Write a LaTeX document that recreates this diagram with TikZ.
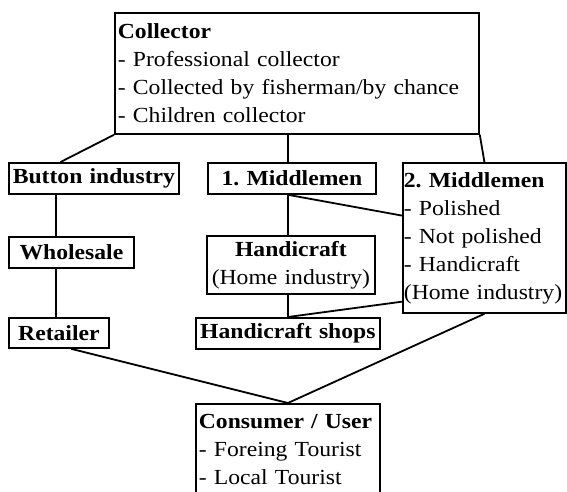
\documentclass[tikz,border=0pt]{standalone}
\usepackage{fontspec}
\setmainfont{Liberation Serif}[FakeStretch=1.1]
\usetikzlibrary{calc}
\hyphenpenalty=10000
\exhyphenpenalty=10000
\begin{document}
\begin{tikzpicture}[x=1pt,y=1pt,
  box/.style={draw, line width=1.8pt, inner xsep=3pt, inner ysep=0pt, anchor=north west,
    font=\fontsize{21.5}{28}\selectfont},
  lbox/.style={box, align=left},
  cbox/.style={box, align=center},
  link/.style={line width=1.8pt}]
\clip (0,0) rectangle (567,-491);
\coordinate (vx) at (288,0);
\coordinate (vb) at (56,0);
\node[lbox, text width=358pt, minimum height=121pt] (col) at (114,-12)
  {\textbf{Collector}\\- Professional collector\\- Collected by fisherman/by chance\\- Children collector};
\node[cbox, text width=164pt, minimum height=31pt] (btn) at (8,-162) {\textbf{Button industry}};
\node[cbox, text width=119pt, minimum height=31pt] (ws) at (8,-236) {\textbf{Wholesale}};
\node[cbox, text width=94pt, minimum height=30pt] (rt) at (8,-317) {\textbf{Retailer}};
\node[cbox, text width=162pt, minimum height=31pt] (m1) at (207,-162) {\textbf{1.\ Middlemen}};
\node[cbox, text width=162pt, minimum height=58pt] (hc) at (206,-235) {\textbf{Handicraft}\\(Home industry)};
\node[cbox, text width=178pt, minimum height=31pt] (hs) at (195,-317) {\textbf{Handicraft shops}};
\node[lbox, inner xsep=1pt, text width=161pt, minimum height=150pt] (m2) at (402,-162)
  {\textbf{2.\ Middlemen}\\- Polished\\- Not polished\\- Handicraft\\(Home industry)};
\node[lbox, text width=178pt, minimum height=92pt] (cs) at (195,-403)
  {\textbf{Consumer / User}\\- Foreing Tourist\\- Local Tourist};
\draw[link] (col.south west) -- ($(btn.north west)!0.306!(btn.north east)$);
\draw[link] (vx |- col.south) -- (vx |- m1.north);
\draw[link] (col.south east) -- (m2.north);
\draw[link] (vb |- btn.south) -- (vb |- ws.north);
\draw[link] (vb |- ws.south) -- (vb |- rt.north);
\draw[link] (vx |- m1.south) -- (vx |- hc.north);
\draw[link] (vx |- hc.south) -- (vx |- hs.north);
\draw[link] (vx |- m1.south) -- ($(m2.north west)!0.353!(m2.south west)$);
\draw[link] ($(m2.north west)!0.92!(m2.south west)$) -- (vx |- hs.north);
\draw[link] (m2.south) -- (cs.north);
\draw[link] ($(rt.south west)!0.62!(rt.south east)$) -- (cs.north);
\end{tikzpicture}
\end{document}
